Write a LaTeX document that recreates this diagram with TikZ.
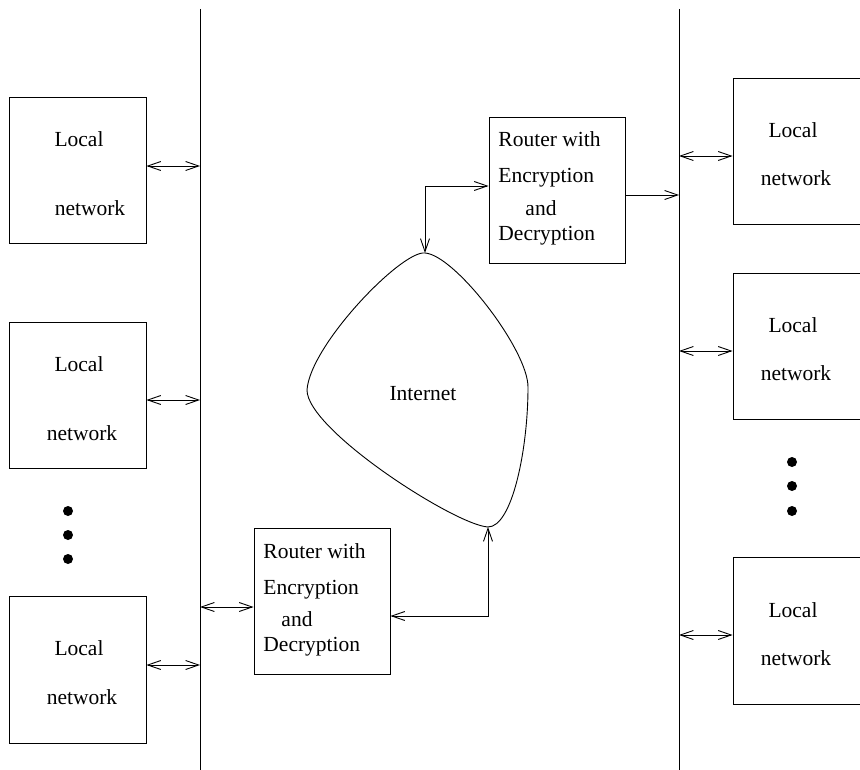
\documentclass[tikz,border=0pt]{standalone}
\usepackage{fontspec}
\setmainfont{Liberation Serif}
\usetikzlibrary{arrows.meta}
\begin{document}
\begin{tikzpicture}[x=1pt,y=-1pt,
  line width=0.9pt,
  >={Straight Barb[length=13pt,width=9pt]},
  box/.style={draw,rectangle,inner sep=0pt,minimum width=137pt,minimum height=146pt},
  rbox/.style={draw,rectangle,inner sep=0pt,minimum width=160pt,minimum height=146pt},
  lbl/.style={inner sep=0pt,font=\fontsize{21.5}{26}\selectfont},
  dot/.style={fill,circle,inner sep=0pt,minimum size=10pt}]
\useasboundingbox (0,0) rectangle (860,770);
\clip (0,0) rectangle (860,770);
% buses
\coordinate (lbusT) at (200,9);
\coordinate (lbusB) at (200,772);
\coordinate (rbusT) at (679,9);
\coordinate (rbusB) at (679,772);
\draw (lbusT) -- (lbusB);
\draw (rbusT) -- (rbusB);
% left local networks
\node[box] (L1) at (77.5,170) {};
\node[box] (L2) at (77.5,395) {};
\node[box,minimum height=147pt] (L3) at (77.5,669.5) {};
\node[lbl] (L1a) at (79,139) {Local};
\node[lbl] (L1b) at (90,208) {network};
\node[lbl] (L2a) at (79,364) {Local};
\node[lbl] (L2b) at (82,433) {network};
\node[lbl] (L3a) at (79,648) {Local};
\node[lbl] (L3b) at (82,697) {network};
\node[dot] (ld1) at (68,511) {};
\node[dot] (ld2) at (68,535) {};
\node[dot] (ld3) at (68,559) {};
% right local networks
\node[rbox] (R1) at (813,151) {};
\node[rbox] (R2) at (813,346) {};
\node[rbox,minimum height=147pt] (R3) at (813,630.5) {};
\node[lbl] (R1a) at (793,130) {Local};
\node[lbl] (R1b) at (796,178) {network};
\node[lbl] (R2a) at (793,325) {Local};
\node[lbl] (R2b) at (796,373) {network};
\node[lbl] (R3a) at (793,610) {Local};
\node[lbl] (R3b) at (796,658) {network};
\node[dot] (rd1) at (792,462) {};
\node[dot] (rd2) at (792,486) {};
\node[dot] (rd3) at (792,511) {};
% routers
\node[draw,rectangle,inner sep=0pt,minimum width=136pt,minimum height=146pt] (RB) at (322,601) {};
\node[lbl,anchor=west] (RBa) at (263,551) {Router with};
\node[lbl,anchor=west] (RBb) at (263,590) {Encryption};
\node[lbl] (RBc) at (297,619) {and};
\node[lbl,anchor=west] (RBd) at (263,647) {Decryption};
\node[draw,rectangle,inner sep=0pt,minimum width=136pt,minimum height=146pt] (RT) at (557,190) {};
\node[lbl,anchor=west] (RTa) at (498,139) {Router with};
\node[lbl,anchor=west] (RTb) at (498,178) {Encryption};
\node[lbl] (RTc) at (541,208) {and};
\node[lbl,anchor=west] (RTd) at (498,236) {Decryption};
% internet cloud
\coordinate (itop) at (425,253);
\coordinate (ileft) at (307,390);
\coordinate (ibot) at (488,527);
\coordinate (iright) at (528,387);
\draw (itop) .. controls (402,250) and (310,345) .. (ileft)
      .. controls (307,430) and (455,525) .. (ibot)
      .. controls (512,527) and (528,450) .. (iright)
      .. controls (528,350) and (455,255) .. (itop) -- cycle;
\node[lbl] (inet) at (423,394) {Internet};
% connectors left
\coordinate (a1) at (200,166);
\coordinate (a2) at (200,400);
\coordinate (a3) at (200,665);
\coordinate (a4) at (200,607);
\draw[<->] (L1.east |- a1) -- (a1);
\draw[<->] (L2.east |- a2) -- (a2);
\draw[<->] (L3.east |- a3) -- (a3);
\draw[<->] (a4) -- (RB.west |- a4);
% router-internet
\coordinate (cb) at (488,616);
\draw[<->] (RB.east |- cb) -- (cb) -- (ibot);
\coordinate (ct) at (425,186);
\draw[<->] (itop) -- (ct) -- (RT.west |- ct);
\coordinate (b0) at (679,195);
\draw[->] (RT.east |- b0) -- (b0);
% connectors right
\coordinate (b1) at (679,156);
\coordinate (b2) at (679,351);
\coordinate (b3) at (679,635);
\draw[<->] (b1) -- (R1.west |- b1);
\draw[<->] (b2) -- (R2.west |- b2);
\draw[<->] (b3) -- (R3.west |- b3);
\end{tikzpicture}
\end{document}
